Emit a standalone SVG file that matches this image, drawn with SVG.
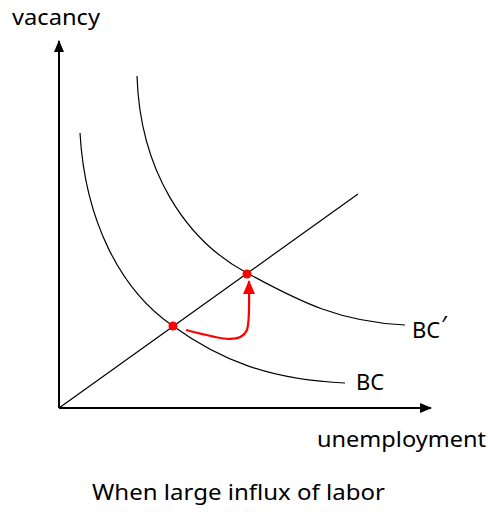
<svg xmlns="http://www.w3.org/2000/svg" width="488" height="512" viewBox="0 0 488 512">
<style>
.t{font-family:"Noto Sans","Open Sans","Liberation Sans",sans-serif;font-size:22px;fill:#000}
.c{fill:none;stroke:#000;stroke-width:1.2}
</style>
<defs>
<marker id="ah" markerWidth="12" markerHeight="10" refX="11" refY="5" orient="auto" markerUnits="userSpaceOnUse"><path d="M0,0L12,5L0,10Z" fill="#000"/></marker>
<marker id="rh" markerWidth="14" markerHeight="12" refX="13" refY="6" orient="auto" markerUnits="userSpaceOnUse"><path d="M0,0L14,6L0,12Z" fill="#f00"/></marker>
</defs>
<rect width="488" height="512" fill="#fff"/>
<g id="connectors">
<line x1="59" y1="408" x2="59" y2="41" stroke="#000" stroke-width="2" marker-end="url(#ah)"/>
<line x1="59" y1="408" x2="431" y2="408" stroke="#000" stroke-width="2" marker-end="url(#ah)"/>
<line x1="59" y1="408" x2="358" y2="194" class="c"/>
<path id="bc" class="c" d="M80,133 C85,220 120,290 173,326 C220,360 270,380 345,383"/>
<path id="bcp" class="c" d="M137,76 C140,170 185,240 247,273 C300,302 340,322 405,325"/>
<path d="M186,330 C215,337 240,346 247,330 C250,320 249,305 249,281" fill="none" stroke="#f00" stroke-width="2.2" marker-end="url(#rh)"/>
</g>
<g id="p1"><circle cx="173" cy="326" r="4.5" fill="#f00"/></g>
<g id="p2"><circle cx="247" cy="274" r="4.5" fill="#f00"/></g>
<g id="labels">
<text class="t" x="12" y="25" textLength="88" lengthAdjust="spacingAndGlyphs">vacancy</text>
<text class="t" x="317" y="447" textLength="169" lengthAdjust="spacingAndGlyphs">unemployment</text>
<text class="t" x="92" y="500" textLength="293" lengthAdjust="spacingAndGlyphs">When large influx of labor</text>
<text class="t" x="412" y="338" font-size="19">BC<tspan font-size="24" dx="1" dy="-5">′</tspan></text>
<text class="t" x="356" y="390" font-size="19">BC</text>
</g>
</svg>
